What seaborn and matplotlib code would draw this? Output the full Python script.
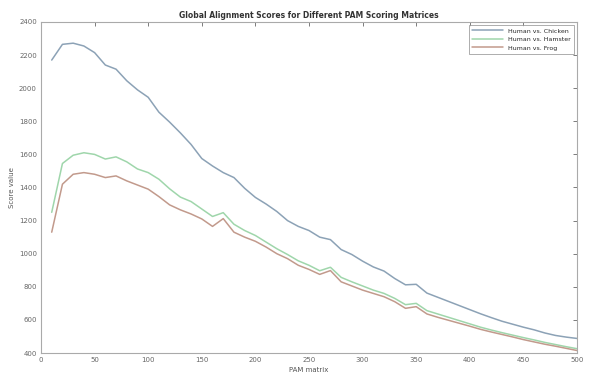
import numpy as np
import pandas as pd
import matplotlib
matplotlib.use("Agg")
import matplotlib.pyplot as plt
import seaborn as sns

pam = list(range(10, 501, 10))
chicken = [2170, 2265, 2272, 2255, 2215, 2140, 2115, 2045, 1990, 1945,
           1855, 1795, 1730, 1660, 1575, 1530, 1490, 1460, 1395, 1340,
           1300, 1255, 1200, 1165, 1140, 1100, 1085, 1025, 995, 955,
           920, 895, 850, 812, 815, 762, 737, 712, 687, 662,
           637, 614, 592, 574, 556, 540, 521, 506, 496, 488]
hamster = [1250, 1545, 1595, 1610, 1600, 1572, 1585, 1555, 1512, 1490,
           1450, 1392, 1342, 1315, 1270, 1225, 1248, 1178, 1140, 1110,
           1070, 1030, 995, 957, 930, 897, 918, 857, 830, 805,
           780, 760, 730, 692, 700, 656, 636, 616, 596, 576,
           556, 539, 523, 508, 493, 479, 464, 451, 438, 426]
frog = [1130, 1420, 1480, 1490, 1480, 1460, 1470, 1440, 1415, 1390,
        1345, 1295, 1265, 1240, 1210, 1165, 1212, 1130, 1100, 1075,
        1040, 1000, 970, 930, 905, 875, 898, 830, 805, 780,
        760, 740, 710, 670, 680, 636, 616, 598, 580, 562,
        543, 527, 512, 497, 481, 467, 453, 441, 428, 415]
labels = ["Human vs. Chicken", "Human vs. Hamster", "Human vs. Frog"]
colors = ["#8ca2b6", "#9fd6ab", "#c29a8c"]

df = pd.concat([
    pd.DataFrame({"PAM": pam, "Score": vals, "Pair": lab})
    for vals, lab in zip([chicken, hamster, frog], labels)
])

sns.set_theme(style="white")
plt.rcParams["font.family"] = ["DejaVu Sans"]
fig = plt.figure(figsize=(5.89, 3.78), dpi=100)
ax = fig.add_axes([41/589, 25/378, 536/589, 331/378])
sns.lineplot(data=df, x="PAM", y="Score", hue="Pair", palette=colors,
             linewidth=1.1, ax=ax)

ax.set_xlim(0, 500)
ax.set_ylim(400, 2400)
ax.set_xticks(range(0, 501, 50))
ax.set_yticks(range(400, 2401, 200))
ax.tick_params(direction="in", length=3, width=0.6, labelsize=5,
               top=True, right=True, colors="#666666", pad=3)
for s in ax.spines.values():
    s.set_color("#aaaaaa")
    s.set_linewidth(0.8)
ax.set_xlabel("PAM matrix", fontsize=5, color="#555555", labelpad=3)
ax.set_ylabel("Score value", fontsize=5, color="#555555", labelpad=3)
ax.set_title("Global Alignment Scores for Different PAM Scoring Matrices",
             fontsize=5.5, fontweight="bold", color="#333333", pad=3)
leg = ax.legend(loc="upper right", fontsize=4.5, frameon=True,
                fancybox=False, edgecolor="#888888", handlelength=5,
                borderpad=0.5, labelspacing=0.5)
leg.get_frame().set_linewidth(0.6)
fig.savefig("out.png", dpi=100, facecolor="white")
